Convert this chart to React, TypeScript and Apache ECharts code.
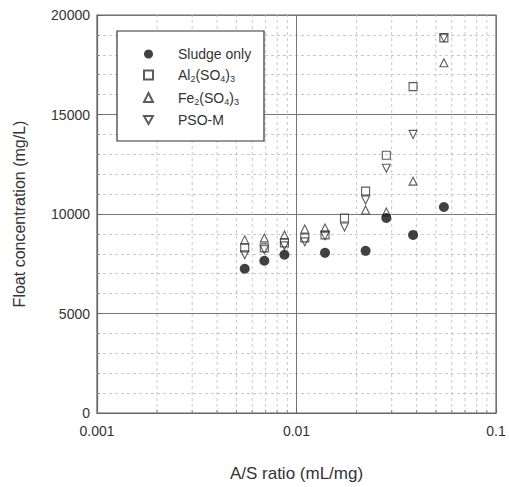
import React, { useEffect, useRef } from "react";
import * as echarts from "echarts";

const xCols = [0.0055, 0.0069, 0.0087, 0.011, 0.0139, 0.0174, 0.0222, 0.0282, 0.0384, 0.0548];

const sludgeX = [0.0055, 0.0069, 0.0087, 0.0139, 0.0222, 0.0282, 0.0384, 0.0548];
const sludgeY = [7250, 7650, 7950, 8050, 8150, 9800, 8950, 10350];

const alX = xCols;
const alY = [8300, 8300, 8550, 8800, 8950, 9800, 11150, 12950, 16400, 18850];

const feX = [0.0055, 0.0069, 0.0087, 0.011, 0.0139, 0.0222, 0.0282, 0.0384, 0.0548];
const feY = [8700, 8800, 8950, 9250, 9300, 10200, 10100, 11650, 17600];

const psoX = xCols;
const psoY = [7950, 8200, 8400, 8600, 8900, 9350, 10700, 12300, 14000, 18850];

const minorX = [
  0.002, 0.003, 0.004, 0.005, 0.006, 0.007, 0.008, 0.009,
  0.02, 0.03, 0.04, 0.05, 0.06, 0.07, 0.08, 0.09,
];

const seriesNames = ["Sludge only", "Al2(SO4)3", "Fe2(SO4)3", "PSO-M"];

const FONT = "'Liberation Sans', Arial, sans-serif";
const INK = "#333";

function pairs(xs: number[], ys: number[]) {
  return xs.map((x, i) => [x, ys[i]]);
}

export default function App() {
  const ref = useRef<HTMLDivElement>(null);
  useEffect(() => {
    if (!ref.current) return;
    const chart = echarts.init(ref.current, undefined, { renderer: "svg" });
    const hollow = { color: "rgba(0,0,0,0)", borderColor: INK, borderWidth: 1.1 };
    const option: any = {
      animation: false,
      backgroundColor: "#fff",
      textStyle: { fontFamily: FONT },
      grid: {
        left: 97, right: 13, top: 15, bottom: 67,
        show: true, borderColor: "#666", borderWidth: 1.2,
      },
      legend: {
        orient: "vertical",
        left: 138, top: 42,
        itemWidth: 9, itemHeight: 9, itemGap: 7,
        data: seriesNames,
        textStyle: {
          fontFamily: FONT, fontSize: 14, color: INK, padding: [0, 0, 0, 20],
          rich: {
            a: { fontFamily: FONT, fontSize: 14, color: INK, lineHeight: 17 },
            s: { fontFamily: FONT, fontSize: 9, color: INK, lineHeight: 17, verticalAlign: "bottom", padding: [6, 0, 0, 0] },
          },
        },
        formatter: (name: string) => {
          if (name === "Al2(SO4)3") return "{a|Al}{s|2}{a|(SO}{s|4}{a|)}{s|3}";
          if (name === "Fe2(SO4)3") return "{a|Fe}{s|2}{a|(SO}{s|4}{a|)}{s|3}";
          return "{a|" + name + "}";
        },
      },
      graphic: [
        {
          type: "rect",
          shape: { x: 117, y: 31, width: 147, height: 110 },
          style: { fill: "#fff", stroke: INK, lineWidth: 1.2 },
          z: 3,
        },
      ],
      xAxis: {
        type: "log",
        logBase: 10,
        min: 0.001,
        max: 0.1,
        name: "A/S ratio (mL/mg)",
        nameLocation: "middle",
        nameGap: 52,
        nameTextStyle: { fontFamily: FONT, fontSize: 17, color: INK },
        axisLine: { lineStyle: { color: "#666", width: 1.2 } },
        axisTick: { inside: true, length: 6, lineStyle: { color: "#666" } },
        axisLabel: {
          fontFamily: FONT, fontSize: 14, color: INK, margin: 11,
          formatter: (v: number) => (v === 0.001 ? "0.001" : v === 0.01 ? "0.01" : v === 0.1 ? "0.1" : ""),
        },
        splitLine: { show: true, lineStyle: { color: "#777", width: 1 } },
      },
      yAxis: {
        type: "value",
        min: 0,
        max: 20000,
        interval: 5000,
        name: "Float concentration (mg/L)",
        nameLocation: "middle",
        nameGap: 70,
        nameTextStyle: { fontFamily: FONT, fontSize: 16, color: INK },
        axisLine: { show: true, lineStyle: { color: "#666", width: 1.2 } },
        axisTick: { inside: true, length: 6, lineStyle: { color: "#666" } },
        axisLabel: {
          fontFamily: FONT, fontSize: 14, color: INK, margin: 7,
          formatter: (v: number) => String(v),
        },
        splitLine: { show: true, lineStyle: { color: "#777", width: 1 } },
        minorTick: { show: true, splitNumber: 5, length: 3, lineStyle: { color: "#888" } },
        minorSplitLine: { show: true, lineStyle: { color: "#bbb", type: [3, 3], width: 0.8 } },
      },
      series: [
        {
          type: "custom",
          silent: true,
          z: 1,
          data: minorX.map((x) => [x]),
          renderItem: (params: any, api: any) => {
            const x = api.value(0);
            const bottom = api.coord([x, 0]);
            const top = api.coord([x, 20000]);
            return {
              type: "group",
              children: [
                {
                  type: "line",
                  shape: { x1: bottom[0], y1: bottom[1], x2: top[0], y2: top[1] },
                  style: { stroke: "#bbb", lineWidth: 0.8, lineDash: [3, 3] },
                },
                {
                  type: "line",
                  shape: { x1: bottom[0], y1: bottom[1], x2: bottom[0], y2: bottom[1] - 3 },
                  style: { stroke: "#888", lineWidth: 1 },
                },
              ],
            };
          },
        },
        {
          name: "Al2(SO4)3",
          type: "scatter",
          symbol: "rect",
          symbolSize: 8,
          itemStyle: hollow,
          data: pairs(alX, alY),
          z: 4,
        },
        {
          name: "Fe2(SO4)3",
          type: "scatter",
          symbol: "triangle",
          symbolSize: 8,
          itemStyle: hollow,
          data: pairs(feX, feY),
          z: 4,
        },
        {
          name: "PSO-M",
          type: "scatter",
          symbol: "path://M0,0 L10,0 L5,9 Z",
          symbolSize: 8,
          itemStyle: hollow,
          data: pairs(psoX, psoY),
          z: 4,
        },
        {
          name: "Sludge only",
          type: "scatter",
          symbol: "circle",
          symbolSize: 10,
          itemStyle: { color: "#111" },
          data: pairs(sludgeX, sludgeY),
          z: 5,
        },
      ],
    };
    chart.setOption(option);
    return () => chart.dispose();
  }, []);
  return (
    <div
      ref={ref}
      style={{ position: "absolute", left: 0, top: 0, width: 509, height: 487 }}
    />
  );
}
